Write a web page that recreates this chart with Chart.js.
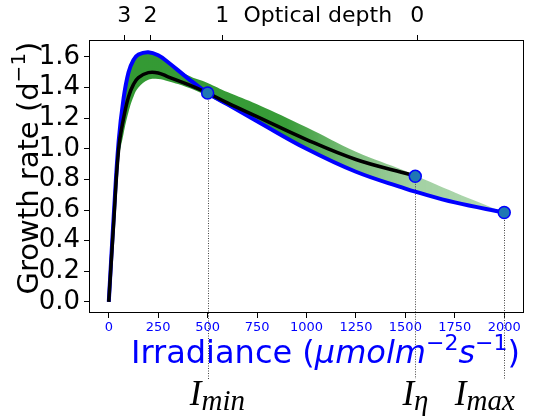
<!DOCTYPE html>
<html>
<head>
<meta charset="utf-8">
<script src="https://cdn.jsdelivr.net/npm/chart.js@4.4.0/dist/chart.umd.min.js"></script>
<style>
  html, body { margin: 0; padding: 0; background: #fff; }
</style>
</head>
<body>
<canvas id="growthChart" width="540" height="419"></canvas>
<script>
// irradiance grid (umol m-2 s-1) shared by the curves
const irradiance = [0, 25, 50, 75, 100, 125, 150, 200, 250, 300, 400, 500, 600, 750, 1000, 1250, 1500, 1550, 1750, 2000];
// blue curve
const growthBlue = [0, 0.56, 1.05, 1.33, 1.50, 1.58, 1.615, 1.63, 1.61, 1.565, 1.46, 1.364, 1.29, 1.18, 1.0, 0.85, 0.74, 0.72, 0.65, 0.584];
// green band edges
const bandUpper = [0, 0.56, 1.05, 1.33, 1.50, 1.58, 1.615, 1.63, 1.61, 1.565, 1.48, 1.43, 1.37, 1.29, 1.14, 0.98, 0.855, 0.825, 0.715, 0.584];
const bandLower = [0, 0.48, 0.92, 1.1, 1.24, 1.34, 1.40, 1.45, 1.455, 1.44, 1.40, 1.345, 1.28, 1.18, 1.0, 0.85, 0.74, 0.72, 0.65, 0.584];
// black curve, stops at I_eta
const irrBlack = [0, 25, 50, 75, 100, 125, 150, 200, 250, 300, 400, 500, 600, 750, 1000, 1250, 1500, 1550];
const growthBlack = [0, 0.52, 1.0, 1.2, 1.34, 1.42, 1.465, 1.497, 1.495, 1.47, 1.42, 1.364, 1.30, 1.21, 1.06, 0.93, 0.84, 0.82];
// marked points I_min, I_eta, I_max
const markIrr = [500, 1550, 2000];
const markGrowth = [1.364, 0.82, 0.584];
const markNames = ['min', 'η', 'max'];
const markLabelIrr = [410, 1485, 1750];
// axes
const xTicks = [0, 250, 500, 750, 1000, 1250, 1500, 1750, 2000];
const yTicks = [0, 0.2, 0.4, 0.6, 0.8, 1.0, 1.2, 1.4, 1.6];
const depthTickPos = [78, 211, 574, 1057, 1560];
const depthTickLabels = ['3', '2', '1', 'Optical depth', '0'];

const pts = (xs, ys) => xs.map((x, i) => ({ x: x, y: ys[i] }));

function greenFill(context) {
  const chart = context.chart;
  if (!chart.chartArea) return 'rgba(0,128,0,0.6)';
  const sx = chart.scales.x;
  const g = chart.ctx.createLinearGradient(sx.getPixelForValue(0), 0, sx.getPixelForValue(2000), 0);
  g.addColorStop(0, 'rgba(0,128,0,0.8)');
  g.addColorStop(0.45, 'rgba(0,128,0,0.78)');
  g.addColorStop(0.62, 'rgba(0,128,0,0.5)');
  g.addColorStop(0.78, 'rgba(0,128,0,0.36)');
  g.addColorStop(1, 'rgba(0,128,0,0.3)');
  return g;
}

function drawRuns(ctx, runs, x, y) {
  let cx = x;
  runs.forEach(r => {
    ctx.font = r.font;
    ctx.fillText(r.text, cx, y - (r.rise || 0));
    cx += ctx.measureText(r.text).width;
  });
}
function runsWidth(ctx, runs) {
  let w = 0;
  runs.forEach(r => { ctx.font = r.font; w += ctx.measureText(r.text).width; });
  return w;
}

const decor = {
  id: 'decor',
  beforeDatasetsDraw(chart) {
    const ctx = chart.ctx, sx = chart.scales.x, sy = chart.scales.y;
    ctx.save();
    ctx.strokeStyle = '#444';
    ctx.lineWidth = 1;
    ctx.setLineDash([1, 1.5]);
    markIrr.forEach((v, i) => {
      const px = Math.round(sx.getPixelForValue(v)) + 0.5;
      ctx.beginPath();
      ctx.moveTo(px, sy.getPixelForValue(markGrowth[i]));
      ctx.lineTo(px, 379);
      ctx.stroke();
    });
    ctx.restore();
  },
  afterDatasetsDraw(chart) {
    const ctx = chart.ctx, a = chart.chartArea;
    ctx.save();
    ctx.strokeStyle = '#000';
    ctx.lineWidth = 1;
    ctx.strokeRect(Math.round(a.left) + 0.5, Math.round(a.top) + 0.5, Math.round(a.right - a.left) - 1, Math.round(a.bottom - a.top) - 1);
    ctx.restore();
  },
  afterDraw(chart) {
    const ctx = chart.ctx, sx = chart.scales.x;
    ctx.save();
    ctx.textBaseline = 'alphabetic';
    ctx.textAlign = 'left';
    // x title
    ctx.fillStyle = '#0000ff';
    const xRuns = [
      { text: 'Irradiance (', font: '32px "DejaVu Sans"' },
      { text: 'μmolm', font: 'italic 32px "DejaVu Sans"' },
      { text: '−2', font: '22px "DejaVu Sans"', rise: 13 },
      { text: 's', font: 'italic 32px "DejaVu Sans"' },
      { text: '−1', font: '22px "DejaVu Sans"', rise: 13 },
      { text: ')', font: '32px "DejaVu Sans"' }
    ];
    drawRuns(ctx, xRuns, 131, 363);
    // y title
    ctx.fillStyle = '#000';
    const yRuns = [
      { text: 'Growth rate (d', font: '29px "DejaVu Sans"' },
      { text: '−1', font: '20px "DejaVu Sans"', rise: 13 },
      { text: ')', font: '29px "DejaVu Sans"' }
    ];
    ctx.save();
    ctx.translate(38, 168);
    ctx.rotate(-Math.PI / 2);
    drawRuns(ctx, yRuns, -runsWidth(ctx, yRuns) / 2, 0);
    ctx.restore();
    // I labels
    markLabelIrr.forEach((v, i) => {
      const px = sx.getPixelForValue(v);
      drawRuns(ctx, [
        { text: 'I', font: 'italic 35px "Liberation Serif"' },
        { text: markNames[i], font: 'italic 29px "Liberation Serif"', rise: -5 }
      ], px, 405);
    });
    ctx.restore();
  }
};

new Chart(document.getElementById('growthChart'), {
  type: 'line',
  data: {
    datasets: [
      {
        data: pts(markIrr, markGrowth),
        showLine: false,
        pointRadius: 6,
        pointBackgroundColor: '#1f77b4',
        pointBorderColor: '#0000ff',
        pointBorderWidth: 1.5
      },
      {
        data: pts(irrBlack, growthBlack),
        borderColor: '#000',
        borderWidth: 3.5,
        pointRadius: 0,
        tension: 0.4,
        fill: false
      },
      {
        data: pts(irradiance, growthBlue),
        borderColor: '#0000ff',
        borderWidth: 4,
        pointRadius: 0,
        tension: 0.4,
        fill: false
      },
      {
        data: pts(irradiance, bandUpper),
        borderWidth: 0,
        pointRadius: 0,
        tension: 0.4,
        backgroundColor: greenFill,
        fill: '+1'
      },
      {
        data: pts(irradiance, bandLower),
        borderWidth: 0,
        pointRadius: 0,
        tension: 0.4,
        fill: false
      }
    ]
  },
  options: {
    animation: false,
    responsive: false,
    layout: { padding: { right: 16, left: 0, top: 0, bottom: 0 } },
    plugins: {
      legend: { display: false },
      tooltip: { enabled: false },
      filler: { drawTime: 'beforeDatasetsDraw' }
    },
    scales: {
      x: {
        type: 'linear',
        position: 'bottom',
        min: -100,
        max: 2100,
        afterBuildTicks: s => { s.ticks = xTicks.map(v => ({ value: v })); },
        afterFit: s => { s.height = 106; },
        ticks: {
          autoSkip: false, maxRotation: 0, padding: 2,
          color: '#0000ff',
          font: { family: 'DejaVu Sans', size: 13 },
          callback: v => String(v)
        },
        grid: { drawOnChartArea: false, tickLength: 5, color: '#000' },
        border: { display: false }
      },
      x2: {
        type: 'linear',
        position: 'top',
        min: -100,
        max: 2100,
        afterBuildTicks: s => { s.ticks = depthTickPos.map(v => ({ value: v })); },
        afterFit: s => { s.height = 40; },
        ticks: {
          autoSkip: false, maxRotation: 0, padding: 6,
          color: '#000',
          font: { family: 'DejaVu Sans', size: 22 },
          callback: (v, i) => depthTickLabels[i]
        },
        grid: {
          drawOnChartArea: false, tickLength: 5,
          color: ctx => depthTickLabels[ctx.index] === 'Optical depth' ? 'rgba(0,0,0,0)' : '#000'
        },
        border: { display: false }
      },
      y: {
        type: 'linear',
        position: 'left',
        min: -0.072,
        max: 1.71,
        afterBuildTicks: s => { s.ticks = yTicks.map(v => ({ value: v })); },
        afterFit: s => { s.width = 89; },
        ticks: {
          autoSkip: false, padding: 4,
          color: '#000',
          font: { family: 'DejaVu Sans', size: 26 },
          callback: v => v.toFixed(1)
        },
        grid: { drawOnChartArea: false, tickLength: 5, color: '#000' },
        border: { display: false }
      }
    }
  },
  plugins: [decor]
});
</script>
</body>
</html>
